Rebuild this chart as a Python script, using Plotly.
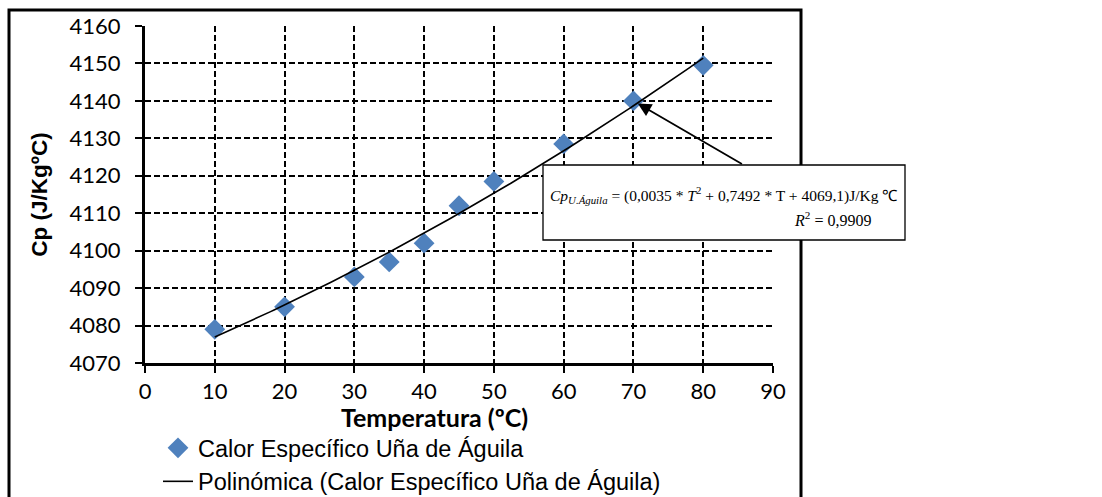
import numpy as np
import plotly.graph_objects as go

# ---- data ----
temperatura = [10, 20, 30, 35, 40, 45, 50, 60, 70, 80]
cp_values = [4079, 4085, 4093, 4097, 4102, 4112, 4118.5, 4128.5, 4140, 4149.5]
trend_coeffs = [0.0035, 0.7492, 4069.1]   # from the equation label
x_ticks = [0, 10, 20, 30, 40, 50, 60, 70, 80, 90]
y_ticks = [4070, 4080, 4090, 4100, 4110, 4120, 4130, 4140, 4150, 4160]

series_name = "Calor Específico Uña de Águila"
trend_name = "Polinómica (Calor Específico Uña de Águila)"

t_fit = np.linspace(min(temperatura), max(temperatura), 141)
cp_fit = np.polyval(trend_coeffs, t_fit)

# ---- layout geometry (pixels) ----
W, H = 1102, 497
L, R, T, B = 145, 773, 26, 363
pw, ph = R - L, B - T

def px_to_paper(x, y):
    return (x - L) / pw, (B - y) / ph

fig = go.Figure()
fig.add_trace(go.Scatter(
    x=temperatura, y=cp_values, mode="markers", name=series_name,
    marker=dict(symbol="diamond", size=16, color="#4F81BD"),
))
fig.add_trace(go.Scatter(
    x=t_fit, y=cp_fit, mode="lines", name=trend_name,
    line=dict(color="black", width=1.6),
))

axis_common = dict(
    showline=True, linecolor="black", linewidth=3,
    ticks="outside", ticklen=7, tickwidth=2, tickcolor="black",
    showgrid=True, gridcolor="black", gridwidth=1.6, griddash="6px,3px",
    zeroline=False, tickfont=dict(family="Lato", size=22, color="black"),
)

fig.update_xaxes(range=[0, 90], tickvals=x_ticks, **axis_common)
fig.update_yaxes(
    range=[4070, 4160], tickvals=y_ticks, ticklabelstandoff=10, **axis_common,
    title=dict(text="<b>Cp (J/KgºC)</b>", standoff=16,
               font=dict(family="Liberation Sans", size=22.5, color="black")),
)

x0f, y0f = px_to_paper(9, 10)
x1f, y1f = px_to_paper(801, 510)
bx0, by0 = px_to_paper(543, 165)
bx1, by1 = px_to_paper(905, 240)

fig.update_layout(
    width=W, height=H,
    margin=dict(l=L, r=W - R, t=T, b=H - B, autoexpand=False),
    paper_bgcolor="white", plot_bgcolor="white",
    showlegend=True,
    legend=dict(
        x=px_to_paper(158, 0)[0], y=px_to_paper(0, 426)[1],
        xanchor="left", yanchor="top", bgcolor="rgba(0,0,0,0)",
        font=dict(family="Liberation Sans", size=23.5, color="black"),
        tracegroupgap=0,
    ),
    shapes=[
        dict(type="rect", xref="paper", yref="paper", x0=x0f, y0=y0f, x1=x1f, y1=y1f,
             line=dict(color="black", width=3), layer="above"),
        dict(type="rect", xref="paper", yref="paper", x0=bx0, y0=by0, x1=bx1, y1=by1,
             line=dict(color="black", width=1.3), fillcolor="white", layer="above"),
    ],
    annotations=[
        dict(x=px_to_paper(434, 0)[0], y=px_to_paper(0, 417)[1], xref="paper", yref="paper",
             text="<b>Temperatura (ºC)</b>", showarrow=False,
             font=dict(family="Lato", size=25, color="black"),
             xanchor="center", yanchor="middle"),
        dict(x=70, y=4140, xref="x", yref="y", text="", showarrow=True,
             ax=110, ay=64, axref="pixel", ayref="pixel",
             arrowhead=2, arrowsize=1.5, arrowwidth=1.8, arrowcolor="black", standoff=5),
        dict(x=(bx0 + bx1) / 2, y=px_to_paper(0, 195)[1], xref="paper", yref="paper",
             text="<i>Cp</i><sub><i>U.Águila</i></sub> = (0,0035 * <i>T</i><sup>2</sup> + 0,7492 * T + 4069,1)J/Kg ℃",
             showarrow=False, font=dict(family="Liberation Serif", size=15.5, color="black"),
             xanchor="center", yanchor="middle"),
        dict(x=px_to_paper(832, 0)[0], y=px_to_paper(0, 219)[1], xref="paper", yref="paper",
             text="<i>R</i><sup>2</sup> = 0,9909",
             showarrow=False, font=dict(family="Liberation Serif", size=16, color="black"),
             xanchor="center", yanchor="middle"),
    ],
)

fig.write_html("out.html")
